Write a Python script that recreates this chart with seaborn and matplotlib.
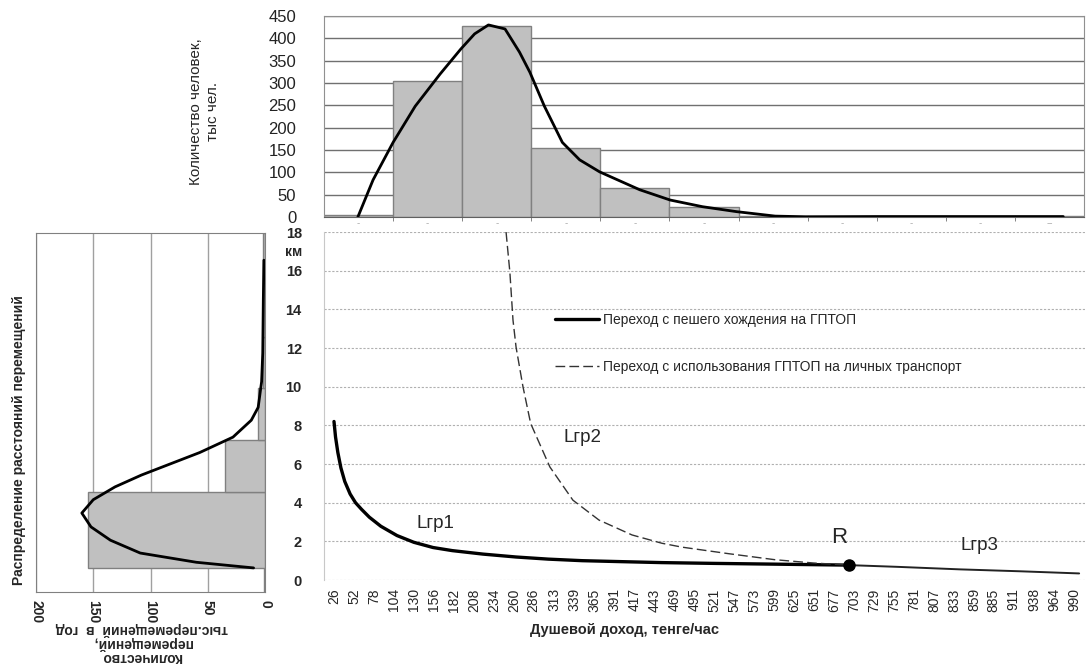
import matplotlib
matplotlib.use('Agg')
import matplotlib.pyplot as plt
import seaborn as sns

# top histogram: number of people by income group, thousands
income_bins = list(range(11))
people = [4, 305, 427, 155, 65, 22, 3, 2, 2, 2, 2]
people_curve_x = [-0.01, 0.21, 0.5, 0.82, 1.18, 1.48, 1.68, 1.88, 2.12, 2.33, 2.48, 2.69,
                  2.95, 3.2, 3.49, 4.07, 4.51, 4.98, 5.47, 6.03, 6.47, 7.5, 8.5, 9.5, 10.2]
people_curve_y = [0, 83, 167, 248, 320, 376, 410, 430, 421, 369, 324, 248,
                  167, 128, 101, 61, 38, 23, 12, 2, 0.5, 1, 1, 1, 1]

# left histogram: trips distance distribution, thousand trips per year
# (distance axis in relative units, bins as drawn in the source)
distance_lo = [0.0, 0.47, 1.95, 2.96, 3.98, 4.97, 6.03]
distance_hi = [0.47, 1.95, 2.96, 3.98, 4.97, 6.03, 7.0]
trips = [0.5, 155, 35, 6, 1.5, 1.5, 1.5]
trips_curve_val = [10, 60, 109, 135, 152, 160, 150, 131, 108, 86, 57, 28, 12, 6, 3, 2, 1.5, 1]
trips_curve_pos = [0.47, 0.58, 0.76, 1.01, 1.27, 1.54, 1.8, 2.05, 2.28, 2.47, 2.72, 3.02,
                   3.35, 3.6, 4.1, 4.66, 5.69, 6.47]

# main chart: boundary distances vs income
lgr1_x = [26, 28, 31, 35, 40, 47, 54, 62, 72, 87, 108, 130, 155, 180, 220, 263, 305, 349,
          400, 453, 520, 600, 696]
lgr1_y = [8.2, 7.4, 6.6, 5.8, 5.1, 4.45, 4.0, 3.65, 3.25, 2.78, 2.3, 1.95, 1.68, 1.52, 1.34,
          1.19, 1.08, 1.0, 0.95, 0.9, 0.86, 0.82, 0.77]
lgr2_x = [250, 255, 259, 263, 272, 282, 307, 337, 371, 414, 453, 479, 540, 600, 650, 696]
lgr2_y = [18.0, 15.9, 13.45, 12.05, 10.0, 8.1, 5.85, 4.13, 3.1, 2.33, 1.9, 1.7, 1.36, 1.05,
          0.88, 0.77]
lgr3_x = [696, 760, 841, 920, 996]
lgr3_y = [0.77, 0.68, 0.55, 0.45, 0.34]
point_r = (696, 0.77)
income_ticks = [26, 52, 78, 104, 130, 156, 182, 208, 234, 260, 286, 313, 339, 365, 391, 417,
                443, 469, 495, 521, 547, 573, 599, 625, 651, 677, 703, 729, 755, 781, 807, 833,
                859, 885, 911, 938, 964, 990]
km_ticks = list(range(0, 19, 2))

sns.set_style('white')
plt.rcParams['font.family'] = ['Liberation Sans', 'DejaVu Sans']

fig = plt.figure(figsize=(10.88, 6.64), dpi=100)

# ---- top histogram
ax_top = fig.add_axes([0.2978, 0.6732, 0.6985, 0.3027])
sns.barplot(x=income_bins, y=people, color='#c0c0c0', edgecolor='#808080', linewidth=1,
            width=1, saturation=1, ax=ax_top, zorder=2)
sns.lineplot(x=people_curve_x, y=people_curve_y, color='black', linewidth=2, ax=ax_top,
             sort=False, zorder=3)
ax_top.set_xlim(-0.5, 10.5)
ax_top.set_ylim(0, 450)
ax_top.set_yticks(range(0, 451, 50))
ax_top.yaxis.grid(True, color='#707070', linewidth=1)
ax_top.set_axisbelow(True)
ax_top.set_xticks(income_bins)
ax_top.set_xticklabels(['-'] * 10 + ['--'], color='#aaaaaa', fontsize=7)
ax_top.set_xticks([i - 0.5 for i in range(1, 11)], minor=True)
ax_top.tick_params(axis='x', which='major', length=0, pad=1)
ax_top.tick_params(axis='x', which='minor', length=3, color='#707070', bottom=True)
ax_top.tick_params(axis='y', length=0, pad=20, labelsize=12, labelcolor='#222222')
ax_top.set_xlabel('')
for s in ax_top.spines.values():
    s.set_color('#909090')
ax_top.spines['bottom'].set_color('#606060')
fig.text(0.188, 0.832, 'Количество человек,\nтыс чел.', rotation=90, ha='center',
         va='center', fontsize=11, multialignment='center')

# ---- main chart
ax = fig.add_axes([0.2978, 0.1265, 0.699, 0.524])
ax.yaxis.grid(True, color='#b0b0b0', linestyle=(0, (2, 1.5)), linewidth=0.8)
sns.lineplot(x=lgr1_x, y=lgr1_y, color='black', linewidth=2.4, ax=ax, sort=False,
             label='Переход с пешего хождения на ГПТОП')
sns.lineplot(x=lgr2_x, y=lgr2_y, color='#333333', linewidth=1, ax=ax, sort=False,
             linestyle=(0, (7, 3)), label='Переход с использования ГПТОП на личных транспорт')
sns.lineplot(x=lgr3_x, y=lgr3_y, color='#222222', linewidth=1.4, ax=ax, sort=False)
ax.plot([point_r[0]], [point_r[1]], 'o', color='black', markersize=8, zorder=5)
ax.set_xlim(13, 1003)
ax.set_ylim(0, 18)
ax.set_yticks(km_ticks)
ax.set_yticklabels([str(v) for v in km_ticks], fontweight='bold', fontsize=10.5)
ax.set_xticks(income_ticks)
ax.set_xticklabels([str(v) for v in income_ticks], rotation=90, fontsize=10)
ax.tick_params(axis='y', length=0, pad=16)
ax.tick_params(axis='x', length=0, pad=6)
for s in ['top', 'right', 'bottom']:
    ax.spines[s].set_visible(False)
ax.spines['left'].set_color('#c8c8c8')
ax.legend(loc='upper left', bbox_to_anchor=(0.3035, 0.767), frameon=False, fontsize=10,
          handlelength=3.2, handletextpad=0.25, labelspacing=2.35, borderpad=0,
          borderaxespad=0)
ax.text(158, 2.9, 'Lгр1', fontsize=13.5, ha='center', va='center')
ax.text(349, 7.35, 'Lгр2', fontsize=13.5, ha='center', va='center')
ax.text(866, 1.8, 'Lгр3', fontsize=13.5, ha='center', va='center')
ax.text(683, 2.2, 'R', fontsize=16, ha='center', va='center')
fig.text(285 / 1088, 1 - 252 / 664, 'км', fontsize=10, fontweight='bold', ha='left',
         va='center')
fig.text(625 / 1088, 1 - 630 / 664, 'Душевой доход, тенге/час', fontsize=10.5,
         fontweight='bold', ha='center', va='center')

# ---- left rotated histogram
ax_l = fig.add_axes([0.0331, 0.1084, 0.2105, 0.5407])
ax_l.barh(distance_lo, trips, height=[h - l for l, h in zip(distance_lo, distance_hi)],
          align='edge', color='#c0c0c0', edgecolor='#808080', linewidth=1, zorder=2)
sns.lineplot(x=trips_curve_val, y=trips_curve_pos, color='black', linewidth=2, ax=ax_l,
             sort=False, orient='y', zorder=3)
ax_l.set_ylim(0, 7)
ax_l.set_xlim(200, 0)
ax_l.set_xticks([200, 150, 100, 50, 0])
ax_l.set_xticklabels(['200', '150', '100', '50', '0'], rotation=270, fontweight='bold',
                     fontsize=10)
ax_l.set_yticks([])
ax_l.set_ylabel('')
ax_l.xaxis.grid(True, color='#a0a0a0', linewidth=1)
ax_l.set_axisbelow(True)
ax_l.tick_params(axis='x', length=4, color='#a0a0a0', pad=2)
for s in ax_l.spines.values():
    s.set_color('#808080')
fig.text(142 / 1088, 1 - 643 / 664, 'Количество\nперемещений,\nтыс.перемещений  в  год',
         rotation=180, ha='center', va='center', fontsize=10, fontweight='bold',
         multialignment='center', linespacing=1.0)
fig.text(19 / 1088, 1 - 440 / 664, 'Распределение расстояний перемещений', rotation=90,
         ha='center', va='center', fontsize=10, fontweight='bold')

fig.savefig('out.png', dpi=100)
